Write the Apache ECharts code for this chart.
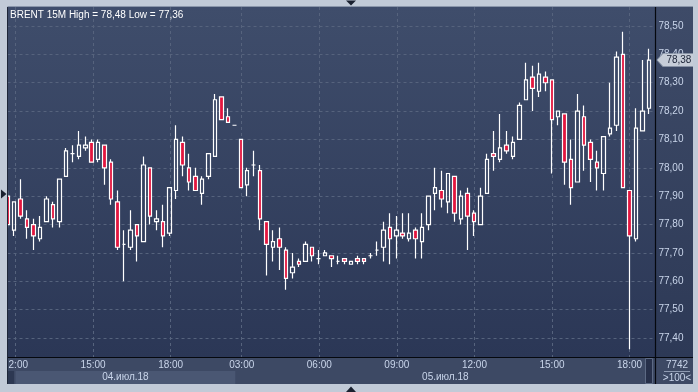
<!DOCTYPE html>
<html><head><meta charset="utf-8">
<script src="https://cdn.jsdelivr.net/npm/echarts@6/dist/echarts.min.js"></script>
<style>html,body{margin:0;padding:0;background:#c1cad7;overflow:hidden}#c{width:698px;height:392px}</style>
</head><body><div id="c"></div>
<script>
// ---- data ----
const categories = [
 '04 11:45','04 12:00','04 12:15','04 12:30','04 12:45','04 13:00','04 13:15','04 13:30','04 13:45','04 14:00',
 '04 14:15','04 14:30','04 14:45','04 15:00','04 15:15','04 15:30','04 15:45','04 16:00','04 16:15','04 16:30',
 '04 16:45','04 17:00','04 17:15','04 17:30','04 17:45','04 18:00','04 18:15','04 18:30','04 18:45','04 19:00',
 '04 19:15','04 19:30','04 19:45','04 20:00','04 20:15','04 20:30',
 '05 03:00','05 03:15','05 03:30','05 03:45','05 04:00','05 04:15','05 04:30','05 04:45','05 05:00','05 05:15',
 '05 05:30','05 05:45','05 06:00','05 06:15','05 06:30','05 06:45','05 07:00','05 07:15','05 07:30','05 07:45',
 '05 08:00','05 08:15','05 08:30','05 08:45','05 09:00','05 09:15','05 09:30','05 09:45','05 10:00','05 10:15',
 '05 10:30','05 10:45','05 11:00','05 11:15','05 11:30','05 11:45','05 12:00','05 12:15','05 12:30','05 12:45',
 '05 13:00','05 13:15','05 13:30','05 13:45','05 14:00','05 14:15','05 14:30','05 14:45','05 15:00','05 15:15',
 '05 15:30','05 15:45','05 16:00','05 16:15','05 16:30','05 16:45','05 17:00','05 17:15','05 17:30','05 17:45',
 '05 18:00','05 18:15','05 18:30','05 18:45','05 19:00'
];
const opens = [
 77.90,77.78,77.89,77.82,77.80,77.75,77.81,77.87,77.81,77.97,
 78.05,78.04,78.07,78.09,78.03,78.08,78.02,77.88,77.73,77.72,
 77.80,77.74,78.00,77.81,77.81,77.77,77.92,78.09,78.00,77.97,
 77.91,77.97,78.04,78.25,78.18,78.15,78.10,77.94,78.01,77.99,
 77.81,77.72,77.75,77.71,77.63,77.67,77.67,77.72,77.68,77.69,
 77.69,77.67,77.68,77.66,77.68,77.68,77.69,77.71,77.72,77.79,
 77.76,77.77,77.75,77.78,77.74,77.80,77.91,77.92,77.88,77.97,
 77.82,77.91,77.84,77.80,77.91,78.05,78.03,78.08,78.04,78.10,
 78.24,78.32,78.27,78.32,78.31,78.18,78.19,78.03,77.95,78.18,
 78.09,78.02,77.98,78.12,78.15,78.40,77.92,77.75,78.13,78.21
];
const closes = [
 77.80,77.88,77.83,77.79,77.76,77.79,77.89,77.82,77.96,78.06,
 78.05,78.08,78.08,78.02,78.09,78.00,77.89,77.72,77.73,77.78,
 77.76,78.01,77.83,77.82,77.76,77.93,78.10,78.01,77.95,77.92,
 77.96,78.05,78.24,78.17,78.16,78.15,77.93,77.99,78.01,77.82,
 77.73,77.74,77.72,77.61,77.65,77.66,77.73,77.69,77.68,77.70,
 77.68,77.67,77.67,77.67,77.67,77.67,77.69,77.71,77.78,77.75,
 77.78,77.76,77.77,77.75,77.79,77.90,77.93,77.89,77.98,77.84,
 77.90,77.83,77.81,77.90,78.03,78.04,78.07,78.06,78.09,78.22,
 78.31,78.28,78.33,78.30,78.17,78.20,78.02,77.93,78.20,78.08,
 78.03,78.00,78.11,78.14,78.39,77.93,77.76,78.14,78.20,78.38
];
const lows = [
 77.79,77.76,77.82,77.75,77.71,77.74,77.81,77.79,77.79,77.97,
 78.02,78.03,78.06,78.02,78.02,77.94,77.87,77.71,77.60,77.71,
 77.67,77.74,77.80,77.78,77.72,77.76,77.89,77.97,77.92,77.92,
 77.87,77.96,78.04,78.17,78.16,78.15,77.93,77.90,77.97,77.78,
 77.62,77.67,77.64,77.57,77.61,77.65,77.67,77.67,77.66,77.69,
 77.65,77.66,77.66,77.66,77.66,77.66,77.68,77.69,77.67,77.66,
 77.68,77.75,77.74,77.68,77.68,77.78,77.85,77.86,77.84,77.81,
 77.80,77.71,77.76,77.80,77.91,77.99,78.02,78.05,78.03,78.10,
 78.24,78.20,78.25,78.27,77.98,78.15,77.94,77.87,77.95,77.99,
 77.95,77.92,77.92,78.11,78.13,77.93,77.36,77.74,78.13,78.19
];
const highs = [
 77.92,77.88,77.96,77.85,77.82,77.83,77.90,77.88,77.96,78.07,
 78.08,78.13,78.11,78.10,78.10,78.08,78.03,77.92,77.78,77.85,
 77.80,78.04,78.00,77.85,77.87,77.93,78.15,78.11,78.05,78.00,
 77.97,78.05,78.26,78.25,78.21,78.15,78.10,78.00,78.06,78.01,
 77.81,77.78,77.79,77.72,77.70,77.68,77.74,77.72,77.71,77.71,
 77.69,77.69,77.68,77.67,77.69,77.68,77.70,77.74,77.81,77.84,
 77.83,77.84,77.84,77.79,77.84,77.90,78.00,77.99,77.98,77.97,
 77.92,77.93,77.85,77.93,78.05,78.13,78.19,78.13,78.11,78.23,
 78.37,78.36,78.37,78.34,78.31,78.20,78.19,78.10,78.26,78.22,
 78.10,78.06,78.11,78.30,78.41,78.48,77.92,78.21,78.38,78.42
];
const tickIndices = [1,13,25,36,48,60,72,84,96];
const dayLabels = ['04.июл.18','05.июл.18'];
const dayFrom = [1,35];
const dayTo = [35,100];
const instrument = 'BRENT 15M';
const footerTop = '7742';
const footerBottom = '>100<';

// ---- chart ----
const FONT = "'Liberation Sans', Arial, sans-serif";
const LABEL = '#c9d5ea';
const GRIDC = '#56637d';
const FRAME = '#c1cad7';
const fmt = v => v.toFixed(2).replace('.', ',');
const labelSet = new Set(tickIndices);
const hi = Math.max.apply(null, highs), lo = Math.min.apply(null, lows);
const lastClose = closes[closes.length - 1];
const lastIdx = categories.length - 1;

const chart = echarts.init(document.getElementById('c'), null, {renderer: 'canvas', width: 698, height: 392});

const grad = (a, b) => new echarts.graphic.LinearGradient(0, 0, 0, 1, [{offset: 0, color: a}, {offset: 1, color: b}]);

const baseGraphic = [
  {id: 'bgPlot', type: 'rect', z: -10, shape: {x: 8, y: 7, width: 647, height: 350}, style: {fill: grad('#3f4d6b', '#2b3756')}},
  {id: 'bgRight', type: 'rect', z: -10, shape: {x: 655, y: 7, width: 38, height: 350}, style: {fill: grad('#3e4b68', '#2d3956')}},
  {id: 'bgBottom', type: 'rect', z: -10, shape: {x: 8, y: 357, width: 685, height: 27}, style: {fill: '#3d4964'}},
  {id: 'bgBottomDark', type: 'rect', z: -9, shape: {x: 8, y: 371, width: 6, height: 13}, style: {fill: '#2d3852'}},
  {id: 'scrollBox', type: 'rect', z: 50, shape: {x: 645.5, y: 358.5, width: 7, height: 25}, style: {fill: '#27304a', stroke: '#5d6a84', lineWidth: 1}},
  {id: 'hLine', type: 'line', z: 60, shape: {x1: 8, y1: 357.5, x2: 693, y2: 357.5}, style: {stroke: '#05080e', lineWidth: 1.2}},
  {id: 'vLine', type: 'line', z: 60, shape: {x1: 655.5, y1: 7, x2: 655.5, y2: 384}, style: {stroke: '#05080e', lineWidth: 1.2}},
  {id: 'leftStrip', type: 'rect', z: 100, shape: {x: 0, y: 0, width: 7.5, height: 392}, style: {fill: FRAME}},
  {id: 'leftEdge', type: 'line', z: 101, shape: {x1: 7.5, y1: 7, x2: 7.5, y2: 384}, style: {stroke: '#1e2638', lineWidth: 1}},
  {id: 'topEdge', type: 'line', z: 101, shape: {x1: 7.5, y1: 6.5, x2: 693, y2: 6.5}, style: {stroke: '#8a96aa', lineWidth: 1}},
  {id: 'rightStrip', type: 'rect', z: 100, shape: {x: 693, y: 0, width: 5, height: 392}, style: {fill: FRAME}},
  {id: 'bottomStrip', type: 'rect', z: 100, shape: {x: 0, y: 384, width: 698, height: 8}, style: {fill: FRAME}},
  {id: 'leftArrow', type: 'polygon', z: 102, shape: {points: [[1, 189.5], [6.5, 194], [1, 198.5]]}, style: {fill: '#1a2130'}},
  {id: 'topArrow', type: 'polygon', z: 102, shape: {points: [[346, 0.5], [356, 0.5], [351, 5.5]]}, style: {fill: '#1a2130'}},
  {id: 'botArrow', type: 'polygon', z: 102, shape: {points: [[346, 392], [356, 392], [351, 386.5]]}, style: {fill: '#1a2130'}},
  {id: 'title', type: 'text', z: 90, x: 10, y: 15, style: {text: instrument + ' High = ' + fmt(hi) + ' Low = ' + fmt(lo), fill: '#ffffff', fontSize: 10, fontFamily: FONT, verticalAlign: 'middle'}},
  {id: 'foot1', type: 'text', z: 90, x: 677, y: 365, style: {text: footerTop, fill: LABEL, fontSize: 10, fontFamily: FONT, align: 'center', verticalAlign: 'middle'}},
  {id: 'footLine', type: 'line', z: 90, shape: {x1: 664, y1: 371.5, x2: 690, y2: 371.5}, style: {stroke: '#8f9bb2', lineWidth: 1}},
  {id: 'foot2', type: 'text', z: 90, x: 677, y: 378, style: {text: footerBottom, fill: LABEL, fontSize: 10, fontFamily: FONT, align: 'center', verticalAlign: 'middle'}}
];

const option = {
  animation: false,
  backgroundColor: FRAME,
  grid: [
    {left: 7.52, right: 42.58, top: 7, bottom: 35},
    {left: 7.52, right: 42.58, top: 26, bottom: 54}
  ],
  xAxis: [
    {type: 'category', gridIndex: 0, data: categories, boundaryGap: false,
     axisLine: {show: false}, axisTick: {show: false},
     axisLabel: {interval: (i) => labelSet.has(i), formatter: (v) => v.slice(-5), color: LABEL, fontSize: 10, fontFamily: FONT, margin: 3},
     splitLine: {show: true, interval: (i) => labelSet.has(i), lineStyle: {color: GRIDC, type: [3, 3], width: 1}}},
    {type: 'category', gridIndex: 1, data: categories, boundaryGap: false, show: false}
  ],
  yAxis: [
    {type: 'value', gridIndex: 0, show: false, min: 0, max: 1},
    {type: 'value', gridIndex: 1, position: 'right', min: 77.4, max: 78.5, interval: 0.1,
     axisLine: {show: false}, axisTick: {show: false},
     axisLabel: {formatter: fmt, color: LABEL, fontSize: 10, fontFamily: FONT, margin: 3},
     splitLine: {show: true, lineStyle: {color: GRIDC, type: [3, 3], width: 1}}}
  ],
  series: [{
    type: 'candlestick', xAxisIndex: 1, yAxisIndex: 1, clip: false, barWidth: 4,
    data: opens.map((o, i) => [o, closes[i], lows[i], highs[i]]),
    itemStyle: {color: 'rgba(0,0,0,0)', color0: '#e3163f', borderColor: '#ffffff', borderColor0: '#ffffff', borderColorDoji: '#ffffff', borderWidth: 1.2},
    markPoint: {
      symbol: 'path://M0,6.5L6,0L38,0L38,13L6,13Z',
      symbolSize: [38, 13],
      symbolOffset: [20.5, 0],
      silent: true,
      itemStyle: {color: '#c6cdd8', borderColor: '#8c98aa', borderWidth: 0.6},
      label: {show: true, position: 'inside', offset: [3, 0], formatter: () => fmt(lastClose), color: '#1a2236', fontSize: 10, fontFamily: FONT},
      data: [{coord: [lastIdx, lastClose]}]
    }
  }],
  graphic: {elements: baseGraphic}
};
chart.setOption(option);

// date bands along the bottom strip, placed with the x axis scale
const px = i => chart.convertToPixel({xAxisIndex: 0}, i);
const dateEls = [];
dayLabels.forEach((d, k) => {
  const x0 = px(dayFrom[k]), x1 = px(dayTo[k]);
  if (k === 0) dateEls.push({id: 'band' + k, type: 'rect', z: -8, shape: {x: x0, y: 371, width: x1 - x0, height: 13}, style: {fill: '#4a5773'}});
  dateEls.push({id: 'date' + k, type: 'text', z: 90, x: (x0 + x1) / 2, y: 377.5, style: {text: d, fill: LABEL, fontSize: 10, fontFamily: FONT, align: 'center', verticalAlign: 'middle'}});
});
chart.setOption({graphic: {elements: dateEls}});
</script>
</body></html>
